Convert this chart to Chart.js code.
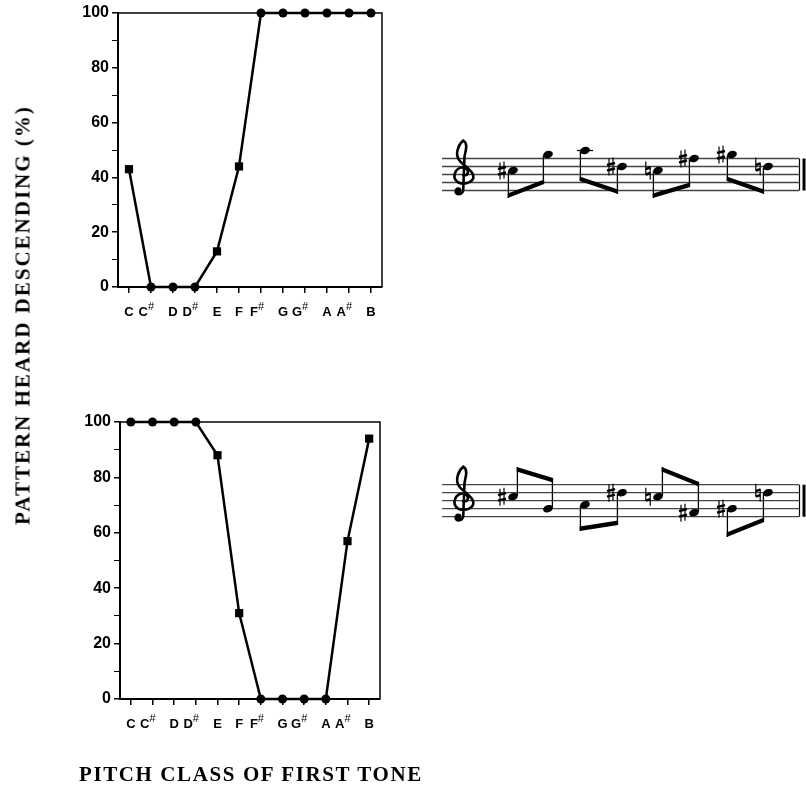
<!DOCTYPE html>
<html lang="en">
<head>
<meta charset="UTF-8">
<title>Pattern heard descending</title>
<script src="https://cdn.jsdelivr.net/npm/chart.js"></script>
<style>
  body { margin: 0; background: #fff; width: 806px; height: 787px; position: relative; overflow: hidden; }
  .box { position: absolute; left: 0; width: 400px; height: 330px; }
  #topBox { top: 0; }
  #bottomBox { top: 400px; }
  #music { position: absolute; left: 0; top: 0; }
  .ylab { position: absolute; left: 23px; top: 315px; transform: translate(-50%, -50%) rotate(-90deg);
          white-space: nowrap; font: bold 21px "Liberation Serif"; letter-spacing: 2px; color: #000; }
  .xlab { position: absolute; left: 79px; top: 762px; white-space: nowrap;
          font: bold 21px "Liberation Serif"; letter-spacing: 1.6px; color: #000; }
</style>
</head>
<body>
<canvas id="music" width="806" height="787"></canvas>
<div class="box" id="topBox"><canvas id="topChart"></canvas></div>
<div class="box" id="bottomBox"><canvas id="bottomChart"></canvas></div>
<div class="ylab">PATTERN HEARD DESCENDING (%)</div>
<div class="xlab">PITCH CLASS OF FIRST TONE</div>

<script>
// data
var pitchClasses = ['C', 'C#', 'D', 'D#', 'E', 'F', 'F#', 'G', 'G#', 'A', 'A#', 'B'];
var topValues = [43, 0, 0, 0, 13, 44, 100, 100, 100, 100, 100, 100];
var bottomValues = [100, 100, 100, 100, 88, 31, 0, 0, 0, 0, 57, 94];
var yMin = 0, yMax = 100, yStep = 10, yLabelStep = 20;

// the two tone patterns shown next to the charts (n = natural sign)
var topNotes = ['C#5', 'G5', 'A5', 'D#5', 'Cn5', 'F#5', 'G#5', 'Dn5'];
var topStems = ['d', 'd', 'd', 'd', 'd', 'd', 'd', 'd'];
var bottomNotes = ['C#5', 'G4', 'A4', 'D#5', 'Cn5', 'F#4', 'G#4', 'Dn5'];
var bottomStems = ['u', 'u', 'd', 'd', 'u', 'u', 'd', 'd'];

Chart.defaults.font.family = '"Liberation Sans", Arial, sans-serif';
Chart.defaults.color = '#000';

var frame = {
  id: 'frame',
  afterDraw: function(chart) {
    var ctx = chart.ctx, a = chart.chartArea, xs = chart.scales.x;
    ctx.save();
    ctx.strokeStyle = '#000';
    ctx.lineWidth = 1.5;
    ctx.beginPath();
    ctx.moveTo(a.left, a.top);
    ctx.lineTo(a.right, a.top);
    ctx.lineTo(a.right, a.bottom);
    ctx.stroke();
    ctx.fillStyle = '#000';
    ctx.textBaseline = 'alphabetic';
    pitchClasses.forEach(function(p, i) {
      var x = xs.getPixelForValue(i);
      var y = a.bottom + 29;
      ctx.font = 'bold 13px "Liberation Sans"';
      if (p.length > 1) {
        ctx.textAlign = 'right';
        ctx.fillText(p[0], x - 3, y);
        ctx.font = '11px "Liberation Sans"';
        ctx.textAlign = 'left';
        ctx.fillText('#', x - 3, y - 6);
      } else {
        ctx.textAlign = 'center';
        ctx.fillText(p, x, y);
      }
    });
    ctx.restore();
  }
};

function makeChart(id, values, pad, yWidth, xHeight) {
  var extreme = function(c) { var v = c.raw; return v === yMin || v === yMax; };
  return new Chart(document.getElementById(id), {
    type: 'line',
    data: {
      labels: pitchClasses,
      datasets: [{
        data: values,
        borderColor: '#000',
        backgroundColor: '#000',
        borderWidth: 2.5,
        tension: 0,
        clip: false,
        pointStyle: function(c) { return extreme(c) ? 'circle' : 'rect'; },
        pointRadius: function(c) { return extreme(c) ? 4.5 : 5.8; },
        pointBorderWidth: 0
      }]
    },
    options: {
      responsive: true,
      maintainAspectRatio: false,
      animation: false,
      events: [],
      layout: { padding: pad },
      plugins: { legend: { display: false }, tooltip: { enabled: false } },
      scales: {
        x: {
          type: 'category',
          offset: true,
          afterFit: function(s) { s.height = xHeight; },
          grid: { drawOnChartArea: false, offset: false, tickLength: 6, color: '#000', lineWidth: 1.5 },
          border: { color: '#000', width: 2 },
          ticks: { display: false }
        },
        y: {
          min: yMin, max: yMax,
          afterFit: function(s) { s.width = yWidth; },
          grid: {
            drawOnChartArea: false, tickLength: 6, color: '#000',
            lineWidth: function(c) { return c.tick && c.tick.value % yLabelStep === 0 ? 1.5 : 1; }
          },
          border: { color: '#000', width: 2 },
          ticks: {
            stepSize: yStep, padding: 3,
            font: { size: 16, weight: 'bold' },
            callback: function(v) { return v % yLabelStep === 0 ? v : ''; }
          }
        }
      }
    },
    plugins: [frame]
  });
}

makeChart('topChart', topValues, { top: 13, right: 18, left: 0, bottom: 0 }, 118, 43);
makeChart('bottomChart', bottomValues, { top: 22, right: 20, left: 0, bottom: 0 }, 120, 31);

// ---- music notation (plain canvas drawing) ----
var m = document.getElementById('music').getContext('2d');
var noteX = [513, 548, 585, 622, 658, 694, 732, 768];
var staffLeft = 442, staffRight = 801, gap = 8;
var letters = { C: 0, D: 1, E: 2, F: 3, G: 4, A: 5, B: 6 };

function stepOf(n) {
  // steps above E4 (bottom line)
  var oct = parseInt(n[n.length - 1], 10);
  return letters[n[0]] + 7 * (oct - 4) - 2;
}

function drawClef(cx, gy) {
  var k = 1.25;
  var X = function(d) { return cx + d * k; };
  m.save();
  m.strokeStyle = '#000';
  m.fillStyle = '#000';
  m.lineWidth = 2.6;
  m.lineCap = 'round';
  m.beginPath();
  m.moveTo(X(1), gy + 1);
  m.bezierCurveTo(X(6), gy + 1, X(6), gy - 6, X(1), gy - 7);
  m.bezierCurveTo(X(-5), gy - 8, X(-9), gy + 3, X(-3), gy + 8);
  m.bezierCurveTo(X(3), gy + 11, X(10), gy + 7, X(9), gy + 1);
  m.bezierCurveTo(X(8), gy - 5, X(1), gy - 9, X(-2), gy - 14);
  m.bezierCurveTo(X(-6), gy - 20, X(-3), gy - 30, X(1), gy - 34);
  m.bezierCurveTo(X(5), gy - 31, X(3), gy - 24, X(2), gy - 18);
  m.lineTo(X(1), gy + 15);
  m.bezierCurveTo(X(1), gy + 21, X(-6), gy + 21, X(-5), gy + 16);
  m.stroke();
  m.beginPath();
  m.arc(X(-3), gy + 16, 3.2, 0, Math.PI * 2);
  m.fill();
  m.restore();
}

function line(x1, y1, x2, y2, w) {
  m.lineWidth = w;
  m.beginPath();
  m.moveTo(x1, y1);
  m.lineTo(x2, y2);
  m.stroke();
}

function sharp(ax, y) {
  line(ax - 2, y - 8, ax - 2, y + 9, 1.2);
  line(ax + 2, y - 9, ax + 2, y + 8, 1.2);
  line(ax - 4, y - 1.5, ax + 4, y - 3.5, 2.4);
  line(ax - 4, y + 4, ax + 4, y + 2, 2.4);
}

function natural(ax, y) {
  line(ax - 2.2, y - 9, ax - 2.2, y + 4, 1.2);
  line(ax + 2.2, y - 4, ax + 2.2, y + 9, 1.2);
  line(ax - 2.2, y - 1.5, ax + 2.2, y - 3, 2.4);
  line(ax - 2.2, y + 4, ax + 2.2, y + 2.5, 2.4);
}

function drawStaff(bottomY, notes, stems, stemEnds) {
  m.strokeStyle = '#444';
  for (var i = 0; i < 5; i++) line(staffLeft, bottomY - i * gap, staffRight - 2, bottomY - i * gap, 1.3);
  m.strokeStyle = '#000';
  line(799.5, bottomY - 4 * gap, 799.5, bottomY, 1.2);
  line(804, bottomY - 4 * gap, 804, bottomY, 3);
  drawClef(462, bottomY - 2 * gap);
  var sx = [];
  notes.forEach(function(n, i) {
    var x = noteX[i], st = stepOf(n), y = bottomY - st * gap / 2;
    m.fillStyle = '#000';
    m.strokeStyle = '#000';
    if (st >= 10) line(x - 8, bottomY - 5 * gap, x + 8, bottomY - 5 * gap, 1.3);
    m.beginPath();
    m.ellipse(x, y, 5, 3.6, -0.35, 0, Math.PI * 2);
    m.fill();
    if (n[1] === '#') sharp(x - 11, y);
    if (n[1] === 'n') natural(x - 10, y);
    var up = stems[i] === 'u';
    var s = up ? x + 4.4 : x - 4.6;
    sx.push(s);
    line(s, y + (up ? -1 : 1), s, stemEnds[i], 1.3);
  });
  for (var k = 0; k < notes.length; k += 2) {
    var d = stems[k] === 'u' ? 1 : -1;
    m.beginPath();
    m.moveTo(sx[k] - 0.7, stemEnds[k]);
    m.lineTo(sx[k + 1] + 0.7, stemEnds[k + 1]);
    m.lineTo(sx[k + 1] + 0.7, stemEnds[k + 1] + 4.5 * d);
    m.lineTo(sx[k] - 0.7, stemEnds[k] + 4.5 * d);
    m.closePath();
    m.fill();
  }
}

drawStaff(190.5, topNotes, topStems, [198, 184, 181, 194, 198, 187, 181, 194]);
drawStaff(516.7, bottomNotes, bottomStems, [467, 478, 531, 525, 467, 482, 537, 522]);
</script>
</body>
</html>
